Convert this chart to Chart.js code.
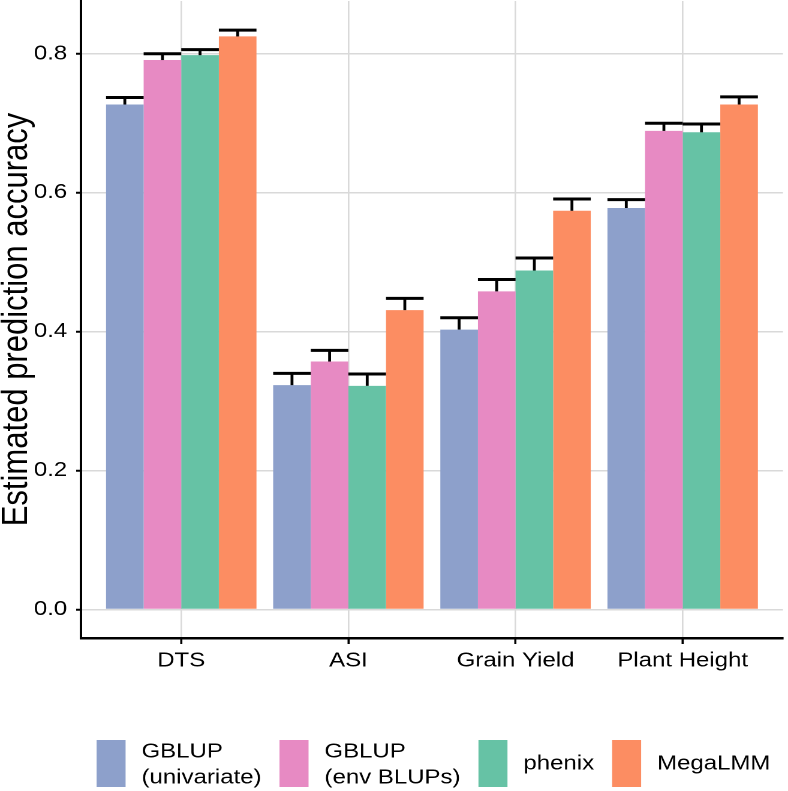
<!DOCTYPE html>
<html>
<head>
<meta charset="utf-8">
<script src="https://cdn.jsdelivr.net/npm/chart.js@4"></script>
<style>
  html, body { margin: 0; padding: 0; background: #fff; overflow: hidden; }
  /* the reference figure is stretched sideways by about 1.2 */
  #wrap { width: 657px; height: 791px; transform: scaleX(1.19939); transform-origin: 0 0; }
</style>
</head>
<body>
<div id="wrap"><canvas id="chart"></canvas></div>
<script>
const categories = ["DTS", "ASI", "Grain Yield", "Plant Height"];
const seriesLabels = ["GBLUP\n(univariate)", "GBLUP\n(env BLUPs)", "phenix", "MegaLMM"];
const seriesColors = ["#8DA0CB", "#E78AC3", "#66C2A5", "#FC8D62"];

// mean accuracy per trait
const gblupUni = [0.727, 0.323, 0.403, 0.578];
const gblupEnv = [0.791, 0.357, 0.458, 0.689];
const phenix   = [0.798, 0.322, 0.488, 0.687];
const megaLMM  = [0.825, 0.431, 0.574, 0.727];

// upper error bar length
const gblupUniErr = [0.010, 0.017, 0.017, 0.012];
const gblupEnvErr = [0.009, 0.016, 0.017, 0.011];
const phenixErr   = [0.008, 0.017, 0.018, 0.012];
const megaLMMErr  = [0.009, 0.017, 0.017, 0.011];

const yTicks = [0, 0.2, 0.4, 0.6, 0.8];

const values = [gblupUni, gblupEnv, phenix, megaLMM];
const errors = [gblupUniErr, gblupEnvErr, phenixErr, megaLMMErr];

const font = "Liberation Sans";

const errorBars = {
    id: "errorBars",
    afterDatasetsDraw(chart) {
        const ctx = chart.ctx;
        const y = chart.scales.y;
        ctx.save();
        ctx.strokeStyle = "#000";
        chart.data.datasets.forEach((ds, d) => {
            chart.getDatasetMeta(d).data.forEach((bar, i) => {
                const top = y.getPixelForValue(ds.data[i].y + ds.errors[i]);
                const half = bar.width / 2;
                ctx.lineWidth = 2.4;
                ctx.beginPath();
                ctx.moveTo(bar.x, bar.y);
                ctx.lineTo(bar.x, top);
                ctx.stroke();
                ctx.lineWidth = 3;
                ctx.beginPath();
                ctx.moveTo(bar.x - half, top);
                ctx.lineTo(bar.x + half, top);
                ctx.stroke();
            });
        });
        ctx.restore();
    }
};

const bottomLegend = {
    id: "bottomLegend",
    afterDraw(chart) {
        const ctx = chart.ctx;
        ctx.save();
        ctx.font = "20px '" + font + "'";
        ctx.textBaseline = "middle";
        ctx.textAlign = "left";
        let x = 80.5;
        const boxTop = 740, boxH = 47, boxW = 24.2;
        chart.data.datasets.forEach(ds => {
            ctx.fillStyle = ds.backgroundColor;
            ctx.fillRect(x, boxTop, boxW, boxH);
            const lines = ds.label.split("\n");
            const tx = x + boxW + 13.3;
            ctx.fillStyle = "#000";
            let w = 0;
            lines.forEach((line, k) => {
                const ty = lines.length === 1 ? 764 : 752 + k * 26;
                ctx.fillText(line, tx, ty);
                w = Math.max(w, ctx.measureText(line).width);
            });
            x = tx + w + 15;
        });
        ctx.restore();
    }
};

new Chart(document.getElementById("chart"), {
    type: "bar",
    data: {
        datasets: values.map((vals, d) => ({
            label: seriesLabels[d],
            data: vals.map((v, i) => ({x: i, y: v})),
            errors: errors[d],
            backgroundColor: seriesColors[d],
            borderWidth: 0,
            categoryPercentage: 0.9,
            barPercentage: 1.0
        }))
    },
    options: {
        responsive: true,
        maintainAspectRatio: false,
        animation: false,
        devicePixelRatio: 2,
        layout: { padding: { top: 1, right: 4.2, bottom: 113, left: 0 } },
        plugins: {
            legend: { display: false },
            tooltip: { enabled: false }
        },
        scales: {
            x: {
                type: "linear",
                min: -0.6,
                max: 3.6,
                offset: false,
                afterBuildTicks: s => { s.ticks = categories.map((c, i) => ({value: i})); },
                afterFit: s => { s.height = 40; s.paddingLeft = 0; s.paddingRight = 0; },
                ticks: {
                    callback: v => categories[v],
                    autoSkip: false,
                    maxRotation: 0,
                    padding: 5,
                    color: "#000",
                    font: { family: font, size: 20 }
                },
                grid: { offset: false, color: "#d9d9d9", lineWidth: 1.3, tickColor: "#000", tickWidth: 1.8, tickLength: 6 },
                border: { color: "#000", width: 2.5 }
            },
            y: {
                min: -0.041,
                max: 0.876,
                afterBuildTicks: s => { s.ticks = yTicks.map(v => ({value: v})); },
                afterFit: s => { s.width = 67.5; s.paddingTop = 0; s.paddingBottom = 0; },
                ticks: {
                    callback: v => v.toFixed(1),
                    padding: 7.5,
                    color: "#000",
                    font: { family: font, size: 20 }
                },
                grid: { color: "#d9d9d9", lineWidth: 1.5, tickColor: "#000", tickWidth: 2, tickLength: 4 },
                border: { color: "#000", width: 2 },
                title: {
                    display: true,
                    text: "Estimated prediction accuracy",
                    color: "#000",
                    padding: 0,
                    font: { family: font, size: 31, lineHeight: 0.9 }
                }
            }
        }
    },
    plugins: [errorBars, bottomLegend]
});
</script>
</body>
</html>
